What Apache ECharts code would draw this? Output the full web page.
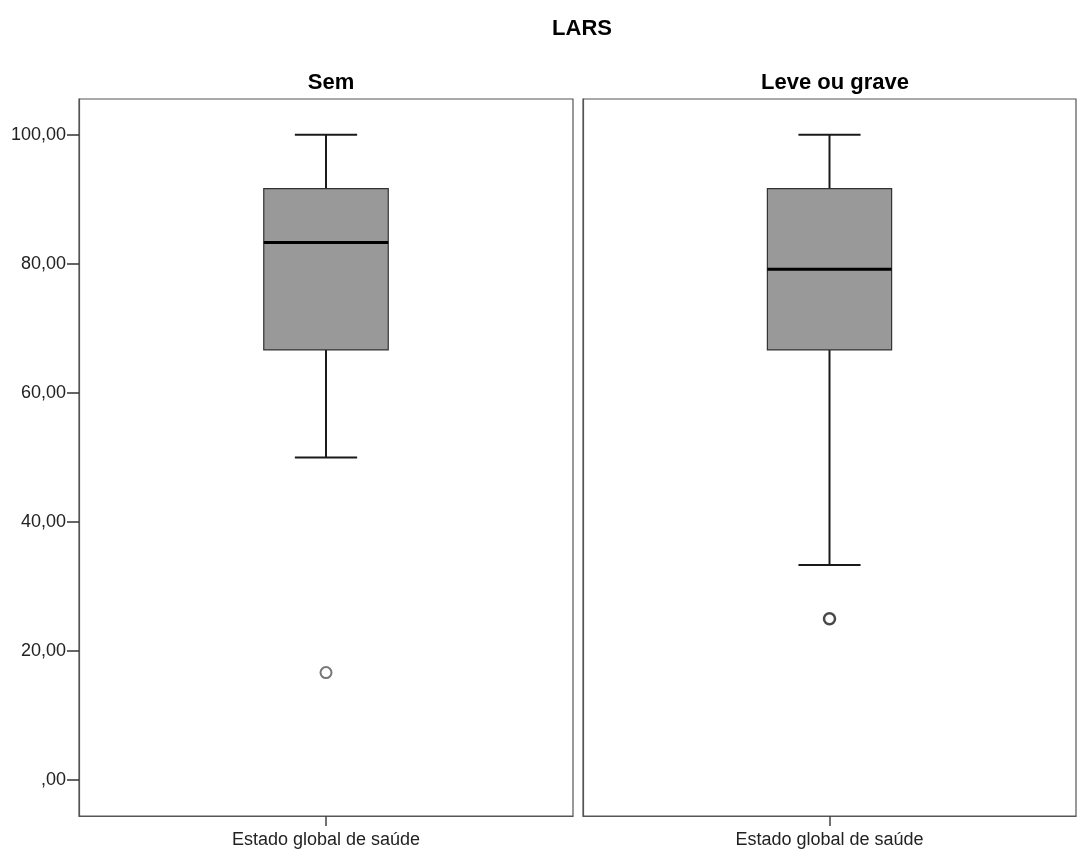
<!DOCTYPE html>
<html>
<head>
<meta charset="utf-8">
<script src="https://cdn.jsdelivr.net/npm/echarts@6/dist/echarts.min.js"></script>
<style>html,body{margin:0;padding:0;background:#fff;}#c{width:1077px;height:849px;}</style>
</head>
<body>
<div id="c"></div>
<script>
var chartTitle = 'LARS';
var panelTitles = ['Sem', 'Leve ou grave'];
var categories = ['Estado global de saúde'];
// [min whisker, Q1, median, Q3, max whisker]
var boxSem = [50.00, 66.67, 83.33, 91.67, 100.00];
var boxLeve = [33.33, 66.67, 79.17, 91.67, 100.00];
var outliersSem = [16.67];
var outliersLeve = [25.00];
var yTicks = [0, 20, 40, 60, 80, 100];
var yTickLabels = [',00', '20,00', '40,00', '60,00', '80,00', '100,00'];

var FONT = '"Liberation Sans", Arial, sans-serif';
var chart = echarts.init(document.getElementById('c'), null, {renderer: 'canvas'});

function renderBox(params, api) {
  var x = api.value(0);
  var lo = api.coord([x, api.value(1)]);
  var q1 = api.coord([x, api.value(2)]);
  var md = api.coord([x, api.value(3)]);
  var q3 = api.coord([x, api.value(4)]);
  var hi = api.coord([x, api.value(5)]);
  var band = api.size([1, 0])[0];
  var hw = band * 0.126;
  var cw = hw * 0.5;
  var cx = md[0];
  var lineStyle = {stroke: '#1a1a1a', lineWidth: 2};
  return {
    type: 'group',
    children: [
      {type: 'line', shape: {x1: cx, y1: hi[1], x2: cx, y2: q3[1]}, style: lineStyle},
      {type: 'line', shape: {x1: cx, y1: q1[1], x2: cx, y2: lo[1]}, style: lineStyle},
      {type: 'line', shape: {x1: cx - cw, y1: hi[1], x2: cx + cw, y2: hi[1]}, style: lineStyle},
      {type: 'line', shape: {x1: cx - cw, y1: lo[1], x2: cx + cw, y2: lo[1]}, style: lineStyle},
      {type: 'rect', shape: {x: cx - hw, y: q3[1], width: hw * 2, height: q1[1] - q3[1]},
        style: {fill: '#999999', stroke: '#333333', lineWidth: 1.2}},
      {type: 'line', shape: {x1: cx - hw, y1: md[1], x2: cx + hw, y2: md[1]},
        style: {stroke: '#000000', lineWidth: 3}}
    ]
  };
}

function yAxisFor(idx, showLabels) {
  return {
    type: 'value', gridIndex: idx, min: -5.55, max: 105.55,
    axisLine: {show: true, onZero: false, lineStyle: {color: '#555', width: 1.2}},
    axisTick: {show: showLabels, length: 12, inside: false, lineStyle: {color: '#333', width: 1.5},
      customValues: yTicks},
    axisLabel: {show: showLabels, margin: 13, fontFamily: FONT, fontSize: 18, color: '#222',
      customValues: yTicks,
      formatter: function (v) { var i = yTicks.indexOf(v); return i >= 0 ? yTickLabels[i] : ''; }},
    splitLine: {show: false}
  };
}
function xAxisFor(idx) {
  return {
    type: 'category', gridIndex: idx, data: categories,
    axisLine: {show: true, onZero: false, lineStyle: {color: '#555', width: 1.2}},
    axisTick: {show: true, alignWithLabel: true, length: 10, lineStyle: {color: '#444', width: 1.5}},
    axisLabel: {margin: 15, fontFamily: FONT, fontSize: 18, color: '#222'}
  };
}

function boxData(b) { return [[0].concat(b)]; }
function outData(o) { return o.map(function (v) { return [0, v]; }); }

var option = {
  backgroundColor: '#ffffff',
  animation: false,
  title: [
    {text: chartTitle, left: 577, top: 13, textAlign: 'center',
      textStyle: {fontFamily: FONT, fontSize: 22, fontWeight: 'bold', color: '#000'}},
    {text: panelTitles[0], left: 326, top: 67, textAlign: 'center',
      textStyle: {fontFamily: FONT, fontSize: 22, fontWeight: 'bold', color: '#000'}},
    {text: panelTitles[1], left: 830, top: 67, textAlign: 'center',
      textStyle: {fontFamily: FONT, fontSize: 22, fontWeight: 'bold', color: '#000'}}
  ],
  grid: [
    {left: 79, right: 504, top: 99, bottom: 32, show: true, borderColor: '#555', borderWidth: 1.2},
    {left: 583, right: 1, top: 99, bottom: 32, show: true, borderColor: '#555', borderWidth: 1.2}
  ],
  xAxis: [xAxisFor(0), xAxisFor(1)],
  yAxis: [yAxisFor(0, true), yAxisFor(1, false)],
  series: [
    {type: 'custom', xAxisIndex: 0, yAxisIndex: 0, renderItem: renderBox,
      encode: {x: 0, y: [1, 2, 3, 4, 5]}, data: boxData(boxSem)},
    {type: 'custom', xAxisIndex: 1, yAxisIndex: 1, renderItem: renderBox,
      encode: {x: 0, y: [1, 2, 3, 4, 5]}, data: boxData(boxLeve)},
    {type: 'scatter', xAxisIndex: 0, yAxisIndex: 0, symbol: 'circle', symbolSize: 11,
      itemStyle: {color: '#fff', borderColor: '#555', borderWidth: 2}, data: outData(outliersSem)},
    {type: 'scatter', xAxisIndex: 1, yAxisIndex: 1, symbol: 'circle', symbolSize: 11,
      itemStyle: {color: '#fff', borderColor: '#1a1a1a', borderWidth: 2.5}, data: outData(outliersLeve)}
  ]
};
chart.setOption(option);
</script>
</body>
</html>
